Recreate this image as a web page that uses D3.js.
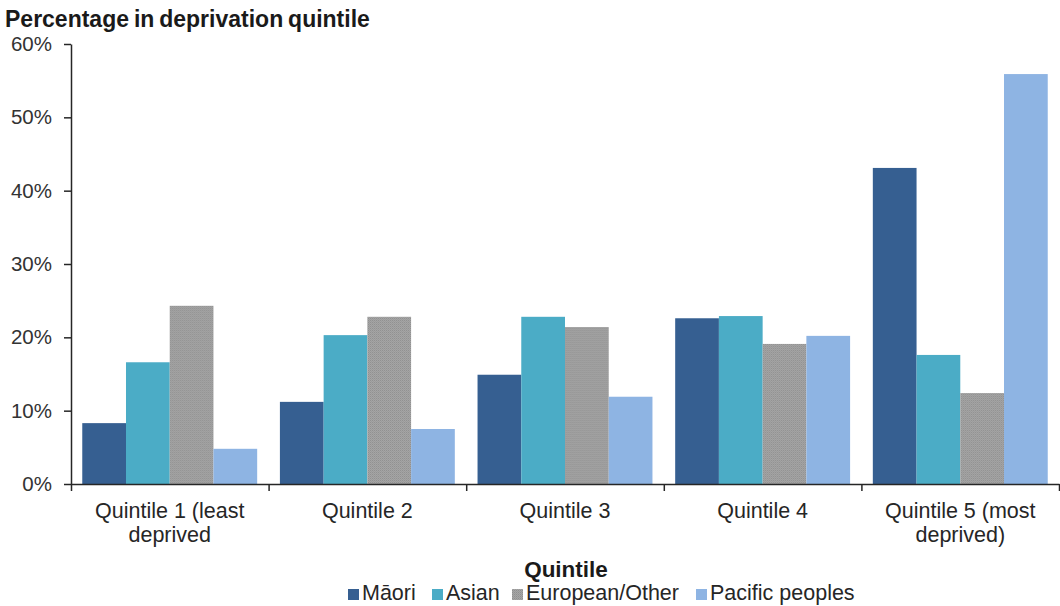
<!DOCTYPE html>
<html>
<head>
<meta charset="utf-8">
<script src="https://cdn.jsdelivr.net/npm/d3@7"></script>
<style>
  body { margin: 0; background: #fff; }
  svg { display: block; font-family: "Liberation Sans", Arial, sans-serif; }
</style>
</head>
<body>
<svg id="chart" width="1060" height="606"></svg>
<script>
// Data
const quintiles = ["Quintile 1 (least deprived", "Quintile 2", "Quintile 3", "Quintile 4", "Quintile 5 (most deprived)"];
const quintileLines = [["Quintile 1 (least", "deprived"], ["Quintile 2"], ["Quintile 3"], ["Quintile 4"], ["Quintile 5 (most", "deprived)"]];
const groups = ["Māori", "Asian", "European/Other", "Pacific peoples"];
const maori = [8.3, 11.2, 14.9, 22.6, 43.1];
const asian = [16.6, 20.3, 22.8, 22.9, 17.6];
const european = [24.3, 22.8, 21.4, 19.1, 12.4];
const pacific = [4.8, 7.5, 11.9, 20.2, 55.9];
const yTicks = [0, 10, 20, 30, 40, 50, 60];

const colors = ["#365f91", "#4bacc6", "url(#greyDots)", "#8eb4e3"];

const margin = {top: 44, right: 1, bottom: 122, left: 71};
const width = 1060, height = 606;
const chartWidth = width - margin.left - margin.right;
const chartHeight = height - margin.top - margin.bottom;

const svg = d3.select("#chart");

// grey dotted texture for European/Other
const defs = svg.append("defs");
const pat = defs.append("pattern")
  .attr("id", "greyDots")
  .attr("patternUnits", "userSpaceOnUse")
  .attr("width", 2).attr("height", 2);
pat.append("rect").attr("width", 2).attr("height", 2).attr("fill", "#a6a6a6");
pat.append("rect").attr("width", 1).attr("height", 1).attr("fill", "#8f8f8f");
pat.append("rect").attr("x", 1).attr("y", 1).attr("width", 1).attr("height", 1).attr("fill", "#9a9a9a");

const rows = quintiles.map((q, i) => ({q: q, values: [maori[i], asian[i], european[i], pacific[i]]}));

// scales
const x0 = d3.scaleBand().domain(quintiles).range([0, chartWidth]).paddingInner(0.115).paddingOuter(0.057);
const x1 = d3.scaleBand().domain(groups).range([0, x0.bandwidth()]).padding(0);
const xBound = d3.scaleLinear().domain([0, quintiles.length]).range([0, chartWidth]);
const y = d3.scaleLinear().domain([0, 60]).range([chartHeight, 0]);

const g = svg.append("g").attr("transform", `translate(${margin.left}, ${margin.top})`);

// bars
const groupSel = g.selectAll(".grp")
  .data(rows)
  .join("g")
  .attr("class", "grp")
  .attr("transform", d => `translate(${x0(d.q)}, 0)`);

groupSel.selectAll("rect")
  .data(d => d.values.map((v, j) => ({key: groups[j], value: v, idx: j})))
  .join("rect")
  .attr("x", d => x1(d.key))
  .attr("y", d => y(d.value))
  .attr("width", x1.bandwidth())
  .attr("height", d => chartHeight - y(d.value))
  .attr("fill", d => colors[d.idx]);

// y-axis
const yAxis = g.append("g")
  .call(d3.axisLeft(y).tickValues(yTicks).tickFormat(d => d + "%").tickSize(7).tickSizeOuter(0));
yAxis.select(".domain").attr("stroke", "#262626").attr("stroke-width", 1.5);
yAxis.selectAll(".tick line").attr("stroke", "#262626").attr("stroke-width", 1.5);
yAxis.selectAll(".tick text").attr("font-size", 20.5).attr("fill", "#333").attr("x", -19)
  .attr("font-family", "Liberation Sans, Arial, sans-serif");

// x-axis boundary ticks
const xAxis = g.append("g")
  .attr("transform", `translate(0, ${chartHeight})`)
  .call(d3.axisBottom(xBound).tickValues(d3.range(quintiles.length + 1)).tickFormat("").tickSize(7).tickSizeOuter(0));
xAxis.select(".domain").attr("stroke", "#262626").attr("stroke-width", 1.5);
xAxis.selectAll(".tick line").attr("stroke", "#262626").attr("stroke-width", 1.5);

// x category labels
const labelAxis = g.append("g")
  .attr("transform", `translate(0, ${chartHeight})`)
  .call(d3.axisBottom(x0).tickSize(0).tickFormat(""));
labelAxis.select(".domain").remove();
labelAxis.selectAll(".tick").each(function(d, i) {
  const t = d3.select(this).append("text")
    .attr("fill", "#262626")
    .attr("font-size", 21.5)
    .attr("text-anchor", "middle")
    .attr("font-family", "Liberation Sans, Arial, sans-serif");
  quintileLines[i].forEach((line, k) => {
    t.append("tspan").attr("x", 0).attr("y", 34 + k * 24).text(line);
  });
});

// y-axis title
svg.append("text")
  .attr("x", 5)
  .attr("y", 27)
  .attr("font-size", 23)
  .attr("font-weight", "bold")
  .attr("word-spacing", -1.5)
  .attr("fill", "#1a1a1a")
  .text("Percentage in deprivation quintile");

// x-axis title
svg.append("text")
  .attr("x", 566)
  .attr("y", 577)
  .attr("text-anchor", "middle")
  .attr("font-size", 22.5)
  .attr("font-weight", "bold")
  .attr("fill", "#1a1a1a")
  .text("Quintile");

// legend
const legendX = [348, 432, 512, 696];
const legend = svg.append("g").attr("transform", "translate(0, 600)");
groups.forEach((name, i) => {
  legend.append("rect")
    .attr("x", legendX[i])
    .attr("y", -11)
    .attr("width", 11)
    .attr("height", 11)
    .attr("fill", colors[i]);
  legend.append("text")
    .attr("x", legendX[i] + 14)
    .attr("y", 0)
    .attr("font-size", 21.5)
    .attr("fill", "#262626")
    .text(name);
});
</script>
</body>
</html>
